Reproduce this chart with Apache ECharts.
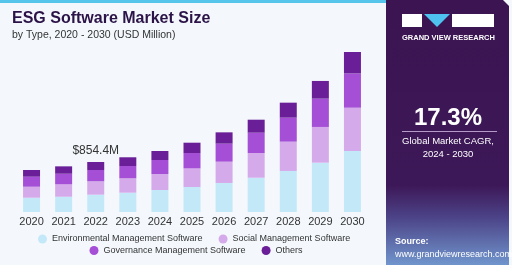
<!DOCTYPE html>
<html>
<head>
<meta charset="utf-8">
<script src="https://cdn.jsdelivr.net/npm/echarts@6/dist/echarts.min.js"></script>
<style>
  html, body { margin: 0; padding: 0; background: #f4f8fc; }
  #chart { width: 512px; height: 265px; }
</style>
</head>
<body>
<div id="chart"></div>
<script>
'use strict';
// values, USD million
var years = ['2020', '2021', '2022', '2023', '2024', '2025', '2026', '2027', '2028', '2029', '2030'];
var environmental = [244, 261, 296, 330, 376, 427, 496, 586, 701, 843, 1042];
var social = [188, 212, 229, 246, 273, 318, 364, 422, 501, 610, 740];
var governance = [171, 181, 193, 210, 239, 263, 308, 347, 410, 484, 586];
var others = [115, 126, 136.4, 149, 154, 176, 193, 222, 256, 302, 366];
var calloutYear = '2022';
var calloutText = '$854.4M';

var colors = ['#c3e9f9', '#d5aaea', '#a54fd6', '#6a1f98'];
var font = '"Liberation Sans", Arial, sans-serif';

var chart = echarts.init(document.getElementById('chart'));

function bar(name, values, color, withCallout) {
  var data = values.map(function (v, i) {
    if (withCallout && years[i] === calloutYear) {
      return {
        value: v,
        label: {
          show: true, position: 'top', distance: 5,
          formatter: calloutText, color: '#333', fontSize: 12, fontFamily: font
        }
      };
    }
    return v;
  });
  return {
    name: name, type: 'bar', stack: 'total', barWidth: 17,
    itemStyle: { color: color },
    emphasis: { disabled: true },
    data: data
  };
}

var legendText = { color: '#333', fontSize: 9, fontFamily: font };

chart.setOption({
  animation: false,
  backgroundColor: '#f4f8fc',
  grid: { left: 15.5, right: 143.5, top: 13, bottom: 53 },
  xAxis: {
    type: 'category', data: years,
    axisLine: { show: false }, axisTick: { show: false },
    axisLabel: { color: '#333', fontSize: 11, fontFamily: font, margin: 4 }
  },
  yAxis: { type: 'value', min: 0, max: 3400, show: false, splitLine: { show: false } },
  legend: [
    {
      data: ['Environmental Management Software', 'Social Management Software'],
      left: 38, top: 234.5, padding: 0, icon: 'circle', itemWidth: 9, itemHeight: 9, itemGap: 16,
      textStyle: legendText, selectedMode: false
    },
    {
      data: ['Governance Management Software', 'Others'],
      left: 89.5, top: 246, padding: 0, icon: 'circle', itemWidth: 9, itemHeight: 9, itemGap: 16,
      textStyle: legendText, selectedMode: false
    }
  ],
  series: [
    bar('Environmental Management Software', environmental, colors[0]),
    bar('Social Management Software', social, colors[1]),
    bar('Governance Management Software', governance, colors[2]),
    bar('Others', others, colors[3], true)
  ],
  graphic: [
    // top strip
    { type: 'rect', shape: { x: 0, y: 0, width: 386, height: 3 }, style: { fill: '#56c5ec' }, silent: true },
    // titles
    {
      type: 'text', left: 12, top: 11,
      style: { text: 'ESG Software Market Size', fill: '#2b1348', font: 'bold 16px ' + font }
    },
    {
      type: 'text', left: 12, top: 30,
      style: { text: 'by Type, 2020 - 2030 (USD Million)', fill: '#333', font: '10.5px ' + font }
    },
    // right panel
    {
      type: 'polygon', silent: true,
      shape: { points: [[386, 0], [503, 0], [509, 6], [509, 265], [386, 265]] },
      style: {
        fill: new echarts.graphic.LinearGradient(0, 0, 0, 1, [
          { offset: 0, color: '#3b1451' },
          { offset: 0.7, color: '#3d1858' },
          { offset: 0.82, color: '#4c4388' },
          { offset: 1, color: '#7095cc' }
        ])
      }
    },
    // logo
    { type: 'rect', shape: { x: 402, y: 14, width: 20, height: 13 }, style: { fill: '#ffffff' } },
    { type: 'polygon', shape: { points: [[424, 14], [450, 14], [437, 27]] }, style: { fill: '#4fc3f0' } },
    { type: 'rect', shape: { x: 452, y: 14, width: 42, height: 13 }, style: { fill: '#ffffff' } },
    {
      type: 'text', left: 402, top: 34,
      style: { text: 'GRAND VIEW RESEARCH', fill: '#ffffff', font: 'bold 7.5px ' + font }
    },
    // CAGR block
    {
      type: 'text', x: 448, y: 118,
      style: { text: '17.3%', fill: '#ffffff', font: 'bold 24px ' + font, align: 'center', verticalAlign: 'middle' }
    },
    { type: 'rect', shape: { x: 402, y: 131, width: 95, height: 1 }, style: { fill: '#b59ac8' } },
    {
      type: 'text', x: 448, y: 148,
      style: { text: 'Global Market CAGR,\n2024 - 2030', fill: '#ffffff', font: '9.5px ' + font, align: 'center', verticalAlign: 'middle', lineHeight: 13 }
    },
    // source
    {
      type: 'text', left: 395, top: 237,
      style: { text: 'Source:', fill: '#ffffff', font: 'bold 9px ' + font }
    },
    {
      type: 'text', left: 395, top: 250,
      style: { text: 'www.grandviewresearch.com', fill: '#ffffff', font: '9px ' + font }
    }
  ]
});
</script>
</body>
</html>
